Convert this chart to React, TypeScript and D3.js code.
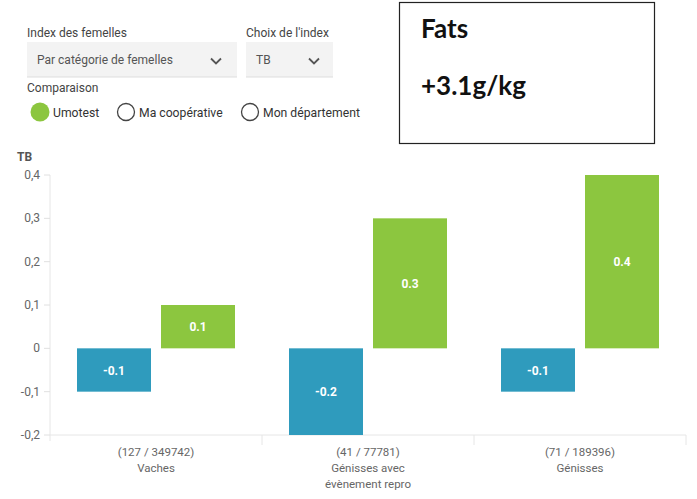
import * as d3 from 'd3';
import { useEffect, useRef } from 'react';

const categories = ["Vaches", "Génisses avec évènement repro", "Génisses"];
const categoryLines = [["Vaches"], ["Génisses avec", "évènement repro"], ["Génisses"]];
const counts = ["(127 / 349742)", "(41 / 77781)", "(71 / 189396)"];
const series = ["Mon élevage", "Umotest"];
const herdValues = [-0.1, -0.2, -0.1];
const umotestValues = [0.1, 0.3, 0.4];
const yTicks = [-0.2, -0.1, 0, 0.1, 0.2, 0.3, 0.4];
const radios = ["Umotest", "Ma coopérative", "Mon département"];

const BLUE = "#2f9bbd";
const GREEN = "#8cc63f";
const FONT = "Roboto, sans-serif";

// plain hyphen for negatives, like the original
const fmt = (v: number) => d3.format(".1f")(v).replace("\u2212", "-");

const App = () => {
    const ref = useRef<SVGSVGElement>(null);
    useEffect(() => {
        DrawChart();
    }, []);
    const DrawChart = () => {
        const svg = d3.select(ref.current);
        svg.selectAll("*").remove();

        // ----- filter controls on top
        const ctl = svg.append("g").style("font-family", FONT);
        const label = (x: number, y: number, t: string, size = 12, color = "#444") =>
            ctl.append("text").attr("x", x).attr("y", y).attr("font-size", size).attr("fill", color).text(t);
        const chevron = (x: number, y: number) =>
            ctl.append("path").attr("d", `M${x - 5},${y - 2.5}L${x},${y + 2.5}L${x + 5},${y - 2.5}`)
                .attr("fill", "none").attr("stroke", "#555").attr("stroke-width", 1.8);
        label(27, 37, "Index des femelles");
        label(246, 37, "Choix de l'index");
        ctl.append("rect").attr("x", 27).attr("y", 42).attr("width", 210).attr("height", 35).attr("fill", "#f3f3f3");
        ctl.append("line").attr("x1", 27).attr("x2", 237).attr("y1", 77).attr("y2", 77).attr("stroke", "#ddd");
        ctl.append("rect").attr("x", 246).attr("y", 42).attr("width", 87).attr("height", 35).attr("fill", "#f3f3f3");
        ctl.append("line").attr("x1", 246).attr("x2", 333).attr("y1", 77).attr("y2", 77).attr("stroke", "#ddd");
        label(37, 64, "Par catégorie de femelles", 12, "#555");
        label(256, 64, "TB", 12, "#555");
        chevron(216, 61);
        chevron(314, 61);
        label(27, 92, "Comparaison");
        const radioX = [40, 126, 250];
        radios.forEach((r, i) => {
            ctl.append("circle").attr("cx", radioX[i]).attr("cy", 112).attr("r", i === 0 ? 9.5 : 8.5)
                .attr("fill", i === 0 ? GREEN : "#fff").attr("stroke", i === 0 ? "none" : "#444").attr("stroke-width", 1.3);
            label(radioX[i] + 13, 116.5, r, 12.2, "#333");
        });

        // ----- info box
        svg.append("rect").attr("x", 399.5).attr("y", 2.5).attr("width", 255).attr("height", 141)
            .attr("fill", "#fff").attr("stroke", "#222").attr("stroke-width", 1.2);
        svg.append("text").attr("x", 421).attr("y", 38).attr("font-family", "Lato, sans-serif")
            .attr("font-weight", "bold").attr("font-size", 26).attr("fill", "#111").text("Fats");
        svg.append("text").attr("x", 421).attr("y", 95).attr("font-family", "Lato, sans-serif")
            .attr("font-weight", "bold").attr("font-size", 26).attr("fill", "#111").text("+3.1g/kg");

        // ----- chart
        const left = 50, right = 686, top = 175, bottom = 435;
        const x: any = d3.scaleBand().domain(categories).range([left, right]).padding(0);
        const xs: any = d3.scaleBand().domain(series).range([0, x.bandwidth()])
            .paddingInner(10 / 84).paddingOuter(27 / 84);
        const y = d3.scaleLinear().domain([-0.2, 0.4]).range([bottom, top]);

        const chart = svg.append("g").style("font-family", FONT);
        chart.append("text").attr("x", 17).attr("y", 161).attr("font-size", 12)
            .attr("font-weight", "bold").attr("fill", "#555").text("TB");

        // y axis
        chart.append("line").attr("x1", left).attr("x2", left).attr("y1", top).attr("y2", bottom + 6)
            .attr("stroke", "#e6e6e6");
        yTicks.forEach((t) => {
            chart.append("line").attr("x1", left - 6).attr("x2", left).attr("y1", y(t)).attr("y2", y(t))
                .attr("stroke", "#e0e0e0");
            chart.append("text").attr("x", 40).attr("y", y(t) + 4).attr("text-anchor", "end")
                .attr("font-size", 12).attr("fill", "#666")
                .text(t === 0 ? "0" : fmt(t).replace(".", ","));
        });

        // x axis
        chart.append("line").attr("x1", left).attr("x2", right).attr("y1", bottom).attr("y2", bottom)
            .attr("stroke", "#e6e6e6");
        categories.forEach((c) => {
            const xe = x(c) + x.bandwidth();
            chart.append("line").attr("x1", xe).attr("x2", xe).attr("y1", bottom).attr("y2", bottom + 10)
                .attr("stroke", "#e6e6e6");
        });

        const rows = categories.map((c, i) => ({ c, i, vals: [herdValues[i], umotestValues[i]] }));
        rows.forEach((row) => {
            row.vals.forEach((v, k) => {
                const bx = x(row.c) + xs(series[k]);
                const y0 = y(Math.max(0, v)), y1 = y(Math.min(0, v));
                chart.append("rect").attr("x", bx).attr("y", y0).attr("width", xs.bandwidth())
                    .attr("height", y1 - y0).attr("fill", k === 0 ? BLUE : GREEN);
                chart.append("text").attr("x", bx + xs.bandwidth() / 2).attr("y", (y0 + y1) / 2 + 4.5)
                    .attr("text-anchor", "middle").attr("font-size", 12).attr("font-weight", "bold")
                    .attr("fill", "#fff").text(fmt(v));
            });
            const cx = x(row.c) + x.bandwidth() / 2;
            const lines = [counts[row.i], ...categoryLines[row.i]];
            lines.forEach((t, j) => {
                chart.append("text").attr("x", cx).attr("y", 456 + j * 16).attr("text-anchor", "middle")
                    .attr("font-size", 11.5).attr("fill", "#666").text(t);
            });
        });
    };
    return (
        <svg ref={ref} width={697} height={499}
            style={{ position: "absolute", left: 0, top: 0, background: "#fff" }} />
    );
};
export default App;
